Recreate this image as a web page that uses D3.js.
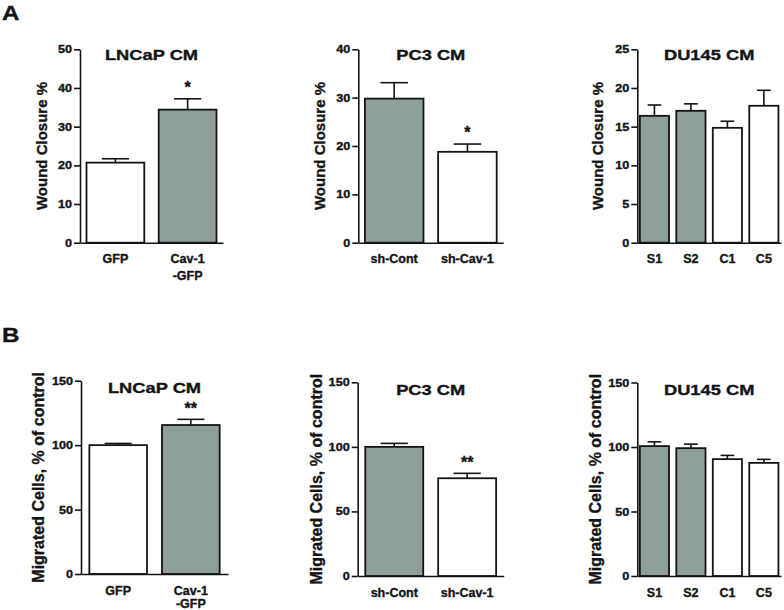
<!DOCTYPE html>
<html><head><meta charset="utf-8">
<script src="https://cdn.jsdelivr.net/npm/d3@7"></script>
<style>body{margin:0;background:#fff} svg{display:block}</style>
</head><body>
<svg id="chart" width="784" height="610"></svg>
<script>
// ---------------- data ----------------
const lncapCategories = ["GFP", "Cav-1\n-GFP"];
const pc3Categories = ["sh-Cont", "sh-Cav-1"];
const du145Categories = ["S1", "S2", "C1", "C5"];

const woundLNCaP = [20.7, 34.4];
const woundLNCaPErr = [1.0, 2.8];
const woundPC3 = [29.8, 18.8];
const woundPC3Err = [3.3, 1.6];
const woundDU145 = [16.4, 17.05, 14.85, 17.7];
const woundDU145Err = [1.4, 0.9, 0.85, 2.0];

const migLNCaP = [100, 115.6];
const migLNCaPErr = [1.3, 4.4];
const migPC3 = [100, 75.7];
const migPC3Err = [2.7, 3.8];
const migDU145 = [100.7, 99.1, 90.6, 87.7];
const migDU145Err = [3.3, 3.1, 2.9, 2.7];

const lncapShaded = [false, true];
const pc3Shaded = [true, false];
const du145Shaded = [true, true, false, false];

const woundLNCaPSig = ["", "*"];
const woundPC3Sig = ["", "*"];
const woundDU145Sig = ["", "", "", ""];
const migLNCaPSig = ["", "**"];
const migPC3Sig = ["", "**"];
const migDU145Sig = ["", "", "", ""];

const woundLNCaPTicks = [0, 10, 20, 30, 40, 50];
const woundPC3Ticks = [0, 10, 20, 30, 40];
const woundDU145Ticks = [0, 5, 10, 15, 20, 25];
const migTicks = [0, 50, 100, 150];

const panelTitles = ["LNCaP CM", "PC3 CM", "DU145 CM"];
const woundYTitle = "Wound Closure %";
const migYTitle = "Migrated Cells, % of control";
const rowLetters = ["A", "B"];

// ---------------- layout ----------------
const FONT = "'Liberation Sans', Arial, Helvetica, sans-serif";
const INK = "#141414";
const GREY = "#8e9f9b";

const panels = [
  {title: panelTitles[0], yTitle: woundYTitle, cats: lncapCategories, vals: woundLNCaP, errs: woundLNCaPErr, shaded: lncapShaded, sig: woundLNCaPSig, ticks: woundLNCaPTicks,
   x0: 80, x1: 223, yTop: 49.3, yBot: 242.7, labelX: 46.7, yFont: 15, pi: 0.2, po: 0.09, titleDy: 11, lineGap: 16.8},
  {title: panelTitles[1], yTitle: woundYTitle, cats: pc3Categories, vals: woundPC3, errs: woundPC3Err, shaded: pc3Shaded, sig: woundPC3Sig, ticks: woundPC3Ticks,
   x0: 358.3, x1: 503.3, yTop: 49.3, yBot: 242.7, labelX: 325, yFont: 15, pi: 0.2, po: 0.09, titleDy: 11, lineGap: 16.8},
  {title: panelTitles[2], yTitle: woundYTitle, cats: du145Categories, vals: woundDU145, errs: woundDU145Err, shaded: du145Shaded, sig: woundDU145Sig, ticks: woundDU145Ticks,
   x0: 637.3, x1: 781, yTop: 49.3, yBot: 242.7, labelX: 603.3, yFont: 15, pi: 0.2, po: 0.07, titleDy: 11, lineGap: 16.8},
  {title: panelTitles[0], yTitle: migYTitle, cats: lncapCategories, vals: migLNCaP, errs: migLNCaPErr, shaded: lncapShaded, sig: migLNCaPSig, ticks: migTicks,
   x0: 81, x1: 228, yTop: 380.7, yBot: 574, labelX: 44, yFont: 16, pi: 0.207, po: 0.115, titleDy: 12.5, lineGap: 13.4},
  {title: panelTitles[1], yTitle: migYTitle, cats: pc3Categories, vals: migPC3, errs: migPC3Err, shaded: pc3Shaded, sig: migPC3Sig, ticks: migTicks,
   x0: 357.7, x1: 503.7, yTop: 382.3, yBot: 576, labelX: 322, yFont: 16, pi: 0.205, po: 0.104, titleDy: 12.5, lineGap: 13.4},
  {title: panelTitles[2], yTitle: migYTitle, cats: du145Categories, vals: migDU145, errs: migDU145Err, shaded: du145Shaded, sig: migDU145Sig, ticks: migTicks,
   x0: 637.3, x1: 781, yTop: 382.5, yBot: 576, labelX: 601, yFont: 16, pi: 0.2, po: 0.07, titleDy: 12.5, lineGap: 13.4}
];

const svg = d3.select("#chart");

function inkText(sel, size) {
  return sel.attr("font-family", FONT).attr("font-weight", "bold").attr("font-size", size)
    .attr("fill", INK).attr("stroke", INK).attr("stroke-width", 0.35);
}

// row letters
[[2, 20], [2, 342]].forEach(([lx, ly], i) => {
  inkText(svg.append("text")
    .attr("transform", `translate(${lx},${ly}) scale(1.15,1)`), 21)
    .text(rowLetters[i]);
});

panels.forEach(p => {
  const g = svg.append("g");
  const x = d3.scaleBand().domain(p.cats).range([p.x0, p.x1]).paddingInner(p.pi).paddingOuter(p.po).align(0.5);
  const y = d3.scaleLinear().domain([0, d3.max(p.ticks)]).range([p.yBot, p.yTop]);
  const bw = x.bandwidth();

  // bars
  g.selectAll("rect.bar").data(p.cats).join("rect")
    .attr("class", "bar")
    .attr("x", d => x(d))
    .attr("y", (d, i) => y(p.vals[i]))
    .attr("width", bw)
    .attr("height", (d, i) => y(0) - y(p.vals[i]))
    .attr("fill", (d, i) => p.shaded[i] ? GREY : "#fff")
    .attr("stroke", INK).attr("stroke-width", 1.8);

  // error bars (upper only)
  const capW = bw * 0.47;
  p.cats.forEach((c, i) => {
    const cx = x(c) + bw / 2;
    const top = y(p.vals[i] + p.errs[i]);
    g.append("line").attr("x1", cx).attr("x2", cx).attr("y1", y(p.vals[i])).attr("y2", top)
      .attr("stroke", INK).attr("stroke-width", 1.6);
    g.append("line").attr("x1", cx - capW / 2).attr("x2", cx + capW / 2).attr("y1", top).attr("y2", top)
      .attr("stroke", INK).attr("stroke-width", 1.6);
    if (p.sig[i]) {
      inkText(g.append("text").attr("x", cx).attr("y", top - 15 + 9.3)
        .attr("text-anchor", "middle"), 16)
        .text(p.sig[i]);
    }
  });

  // y axis
  const yAxis = g.append("g").attr("transform", `translate(${p.x0},0)`)
    .call(d3.axisLeft(y).tickValues(p.ticks).tickSize(6).tickPadding(2).tickSizeOuter(0).tickFormat(d3.format("d")));
  yAxis.select(".domain").attr("stroke", INK).attr("stroke-width", 1.6);
  yAxis.selectAll(".tick line").attr("stroke", INK).attr("stroke-width", 1.6);
  inkText(yAxis.selectAll(".tick text"), 11)
    .attr("x", -8 / 1.15)
    .attr("transform", "scale(1.15,1)");

  // x axis
  const xAxis = g.append("g").attr("transform", `translate(0,${p.yBot})`)
    .call(d3.axisBottom(x).tickSize(0).tickSizeOuter(0).tickFormat(""));
  xAxis.select(".domain").attr("stroke", INK).attr("stroke-width", 1.6);
  xAxis.selectAll(".tick").each(function(d) {
    const t = inkText(d3.select(this).append("text").attr("text-anchor", "middle"), 12.5);
    d.split("\n").forEach((line, k) => {
      t.append("tspan").attr("x", 0).attr("y", 20.5 + k * p.lineGap).text(line);
    });
  });

  // title
  inkText(g.append("text")
    .attr("transform", `translate(${(p.x0 + p.x1) / 2},${p.yTop + p.titleDy}) scale(1.22,1)`)
    .attr("text-anchor", "middle"), 15)
    .text(p.title);

  // y title
  inkText(g.append("text")
    .attr("transform", `translate(${p.labelX},${(p.yTop + p.yBot) / 2}) rotate(-90)`)
    .attr("text-anchor", "middle"), p.yFont)
    .text(p.yTitle);
});
</script>
</body></html>
